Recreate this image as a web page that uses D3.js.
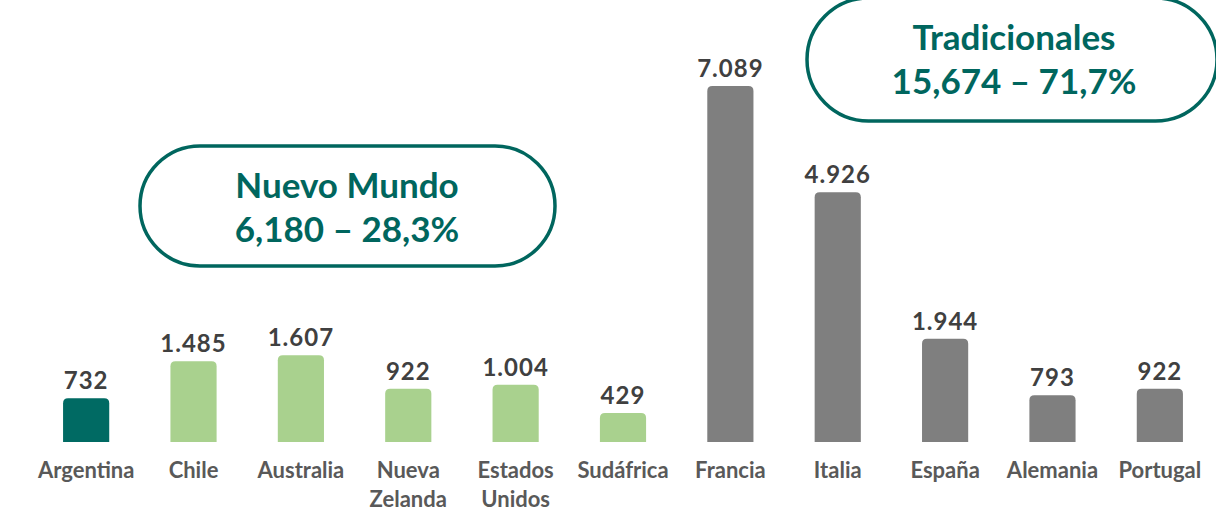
<!DOCTYPE html>
<html>
<head>
<meta charset="utf-8">
<script src="https://cdn.jsdelivr.net/npm/d3@7.9.0/dist/d3.min.js"></script>
<style>
  html, body { margin: 0; padding: 0; background: #fff; }
  svg text { font-family: Lato, "Open Sans", sans-serif; font-weight: 700; }
</style>
</head>
<body>
<div id="chart"></div>
<script>
// data
const countries = ['Argentina', 'Chile', 'Australia', 'Nueva Zelanda', 'Estados Unidos', 'Sudáfrica',
                   'Francia', 'Italia', 'España', 'Alemania', 'Portugal'];
const values = [732, 1485, 1607, 922, 1004, 429, 7089, 4926, 1944, 793, 922];
const valueLabels = ['732', '1.485', '1.607', '922', '1.004', '429', '7.089', '4.926', '1.944', '793', '922'];
const groups = ['ar', 'nm', 'nm', 'nm', 'nm', 'nm', 'tr', 'tr', 'tr', 'tr', 'tr'];
const boxTitles = ['Nuevo Mundo', 'Tradicionales'];
const boxValues = ['6,180 – 28,3%', '15,674 – 71,7%'];

const width = 1216, height = 520;
const baseY = 442;

const colors = { ar: '#006a63', nm: '#a9d18e', tr: '#7f7f7f' };
const teal = '#00665e';

const svg = d3.select('#chart')
    .append('svg')
    .attr('width', width)
    .attr('height', height);

const xScale = d3.scaleBand()
    .domain(countries)
    .range([33, 1213])
    .paddingInner(0.57)
    .paddingOuter(0.28);

// the baseline in the original sits a little below zero
const yScale = d3.scaleLinear()
    .domain([-160, 7089])
    .range([baseY, 86]);

const bw = xScale.bandwidth();
const r = 5;

function barPath(d, i) {
    const x0 = xScale(countries[i]);
    const x1 = x0 + bw;
    const y0 = yScale(d);
    return `M${x0},${baseY} L${x0},${y0 + r} Q${x0},${y0} ${x0 + r},${y0} ` +
        `L${x1 - r},${y0} Q${x1},${y0} ${x1},${y0 + r} L${x1},${baseY} Z`;
}

svg.append('g')
    .selectAll('path')
    .data(values)
    .join('path')
    .attr('d', barPath)
    .attr('fill', (d, i) => colors[groups[i]]);

svg.append('g')
    .selectAll('text')
    .data(values)
    .join('text')
    .attr('x', (d, i) => xScale(countries[i]) + bw / 2)
    .attr('y', d => yScale(d) - 9)
    .attr('text-anchor', 'middle')
    .attr('font-size', 24)
    .attr('letter-spacing', 1)
    .attr('fill', '#404040')
    .text((d, i) => valueLabels[i]);

// category labels, wrapped on the space for two word names
const xAxis = d3.axisBottom(xScale).tickSize(0).tickPadding(0);
const axisG = svg.append('g')
    .attr('transform', `translate(0,${baseY})`)
    .call(xAxis);
axisG.select('.domain').remove();
axisG.selectAll('.tick text').each(function (d) {
    const t = d3.select(this);
    const words = d.split(' ');
    t.text(null)
        .attr('font-size', 22)
        .attr('font-family', 'Lato, sans-serif')
        .attr('fill', '#595959')
        .attr('y', 0)
        .attr('dy', null);
    words.forEach((w, k) => {
        t.append('tspan')
            .attr('x', 0)
            .attr('y', 36 + k * 29)
            .text(w);
    });
});

// group boxes
const boxes = [
    { x: 140, y: 146, w: 415, h: 120, cx: 347 },
    { x: 807, y: -2, w: 410, h: 123, cx: 1014 }
];
boxes.forEach((b, i) => {
    svg.append('rect')
        .attr('x', b.x).attr('y', b.y)
        .attr('width', b.w).attr('height', b.h)
        .attr('rx', b.h / 2).attr('ry', b.h / 2)
        .attr('fill', '#fff')
        .attr('stroke', teal)
        .attr('stroke-width', 3.5);
    svg.append('text')
        .attr('x', b.cx).attr('y', b.y + 52)
        .attr('text-anchor', 'middle')
        .attr('font-size', 35)
        .attr('fill', teal)
        .text(boxTitles[i]);
    svg.append('text')
        .attr('x', b.cx).attr('y', b.y + 96)
        .attr('text-anchor', 'middle')
        .attr('font-size', 35)
        .attr('fill', teal)
        .text(boxValues[i]);
});
</script>
</body>
</html>
